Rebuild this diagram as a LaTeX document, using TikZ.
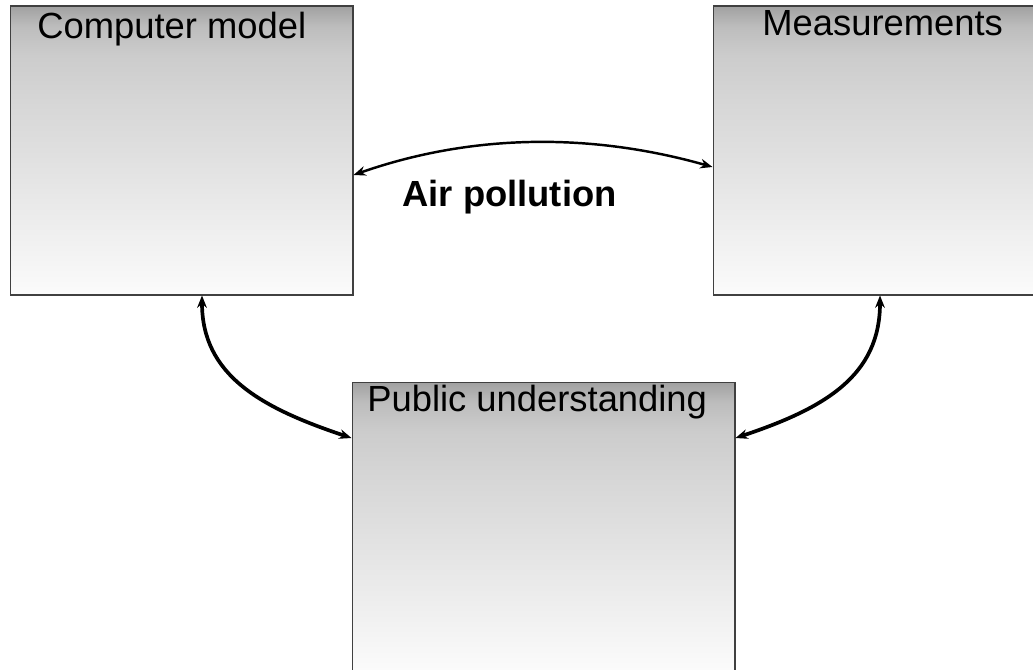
\documentclass[tikz,border=0pt]{standalone}
\usepackage{fontspec}
\setmainfont{Liberation Sans}
\usetikzlibrary{arrows.meta}

\definecolor{fadetop}{gray}{0.63}
\definecolor{fadeband}{gray}{0.74}
\definecolor{fadehead}{gray}{0.80}
\definecolor{fadeupper}{gray}{0.84}
\definecolor{fademid}{gray}{0.875}
\definecolor{fadelow}{gray}{0.985}
\pgfdeclareverticalshading{boxfade}{100bp}{color(0bp)=(fadelow); color(25bp)=(fadelow); color(50bp)=(fademid); color(58.5bp)=(fadeupper); color(66.5bp)=(fadehead); color(71.5bp)=(fadeband); color(75bp)=(fadetop); color(100bp)=(fadetop)}

\tikzset{
    fadebox/.style={rectangle, draw=black!75, line width=0.6pt, shade, shading=boxfade, inner sep=0pt},
    boxtitle/.style={font=\fontsize{20.7}{24}\selectfont, inner sep=0pt, anchor=base west},
    linkthin/.style={line width=1.4pt, {Stealth[length=7pt,width=5.5pt]}-{Stealth[length=7pt,width=5.5pt]}},
    linkthick/.style={line width=2.1pt, {Stealth[length=7pt,width=5.5pt]}-{Stealth[length=7pt,width=5.5pt]}}
}

\begin{document}
\begin{tikzpicture}[x=0.02cm, y=-0.02cm]
    % 画布大小
    \useasboundingbox (0,0) rectangle (1033,669);
    \clip (0,0) rectangle (1033,669);
    % 三个渐变方框
    \node [fadebox, minimum width=6.86cm, minimum height=5.78cm] (model) at (181.5,150.5) {};
    \node [fadebox, minimum width=6.76cm, minimum height=5.78cm] (measure) at (882,150.5) {};
    \node [fadebox, minimum width=7.66cm, minimum height=5.78cm] (public) at (543.5,526.5) {};
    \node [boxtitle] (modeltitle) at (37,39) {Computer model};
    \node [boxtitle] (measuretitle) at (762,36) {Measurements};
    \node [boxtitle] (publictitle) at (367,411) {Public understanding};
    \node [font=\bfseries\fontsize{20.7}{24}\selectfont, inner sep=0pt, anchor=base] (topic) at (509.5,206) {Air pollution};
    % 箭头的端点
    \coordinate (modelside) at ([yshift=-0.49cm]model.east);
    \coordinate (measureside) at ([yshift=-0.33cm]measure.west);
    \coordinate (modelfoot) at ([xshift=0.41cm]model.south);
    \coordinate (measurefoot) at ([xshift=-0.04cm]measure.south);
    \coordinate (publicleft) at ([yshift=1.77cm]public.west);
    \coordinate (publicright) at ([yshift=1.77cm]public.east);
    % 双向弯箭头
    \draw [linkthin] (modelside) .. controls +(120,-42) and +(-120,-34) .. (measureside);
    \draw [linkthick] (modelfoot) .. controls +(0,80) and +(-90,-30) .. (publicleft);
    \draw [linkthick] (measurefoot) .. controls +(0,80) and +(90,-30) .. (publicright);
\end{tikzpicture}
\end{document}
